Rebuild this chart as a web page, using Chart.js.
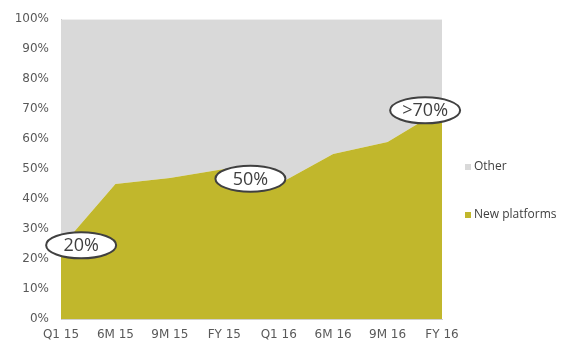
<!DOCTYPE html>
<html>
<head>
<meta charset="utf-8">
<script src="https://cdn.jsdelivr.net/npm/chart.js@4/dist/chart.umd.min.js"></script>
<style>
  html, body { margin: 0; padding: 0; background: #fff; }
  #wrap { width: 571px; height: 343px; }
</style>
</head>
<body>
<div id="wrap"><canvas id="areaChart"></canvas></div>
<script>
// Chart data
const periods = ['Q1 15', '6M 15', '9M 15', 'FY 15', 'Q1 16', '6M 16', '9M 16', 'FY 16'];
const newPlatforms = [24, 45, 47, 50, 45, 55, 59, 70];
const other = newPlatforms.map(v => 100 - v);
const yTicks = [0, 10, 20, 30, 40, 50, 60, 70, 80, 90, 100];

// Callout bubbles: text, x position (category index), y value
const calloutText = ['20%', '50%', '>70%'];
const calloutX = [0.37, 3.48, 6.69];
const calloutY = [24.6, 46.8, 69.6];

const tickFont = { family: 'DejaVu Sans', size: 12 };
const tickColor = '#595959';

// Draws the ellipse callouts on top of the areas
const calloutPlugin = {
  id: 'callouts',
  afterDatasetsDraw(chart) {
    const ctx = chart.ctx;
    const xs = chart.scales.x;
    const ys = chart.scales.y;
    ctx.save();
    calloutText.forEach((t, i) => {
      const cx = xs.getPixelForValue(calloutX[i]);
      const cy = ys.getPixelForValue(calloutY[i]);
      ctx.beginPath();
      ctx.ellipse(cx, cy, 35, 13, 0, 0, Math.PI * 2);
      ctx.fillStyle = '#ffffff';
      ctx.fill();
      ctx.lineWidth = 2;
      ctx.strokeStyle = '#404040';
      ctx.stroke();
      ctx.fillStyle = '#404040';
      ctx.font = '18px "Open Sans", sans-serif';
      ctx.textAlign = 'center';
      ctx.textBaseline = 'middle';
      ctx.fillText(t, cx, cy + 1);
    });
    ctx.restore();
  }
};

// Legend at the right, Other first
const legendPlugin = {
  id: 'sideLegend',
  afterDraw(chart) {
    const ctx = chart.ctx;
    const items = [chart.data.datasets[1], chart.data.datasets[0]];
    const rows = [167, 215];
    ctx.save();
    ctx.font = '12px "Open Sans", sans-serif';
    ctx.textBaseline = 'middle';
    ctx.textAlign = 'left';
    items.forEach((ds, i) => {
      ctx.fillStyle = ds.backgroundColor;
      ctx.fillRect(465, rows[i] - 3, 6, 6);
      ctx.fillStyle = '#404040';
      ctx.fillText(ds.label, 474, rows[i]);
    });
    ctx.restore();
  }
};

new Chart(document.getElementById('areaChart').getContext('2d'), {
  type: 'line',
  data: {
    labels: periods,
    datasets: [
      {
        label: 'New platforms',
        data: newPlatforms,
        backgroundColor: '#c1b72c',
        borderWidth: 0,
        pointRadius: 0,
        fill: 'origin'
      },
      {
        label: 'Other',
        data: other,
        backgroundColor: '#d9d9d9',
        borderWidth: 0,
        pointRadius: 0,
        fill: '-1'
      }
    ]
  },
  options: {
    responsive: true,
    maintainAspectRatio: false,
    animation: false,
    layout: { padding: { top: 18, right: 129, left: 0, bottom: 0 } },
    plugins: {
      legend: { display: false },
      tooltip: { enabled: false }
    },
    scales: {
      x: {
        offset: false,
        grid: { display: false, drawTicks: false },
        border: { color: '#d0d0d0' },
        ticks: { font: tickFont, color: tickColor, padding: 9, maxRotation: 0, autoSkip: false },
        afterFit(scale) { scale.height = 24; }
      },
      y: {
        stacked: true,
        min: 0,
        max: 100,
        grid: { display: false, drawTicks: false },
        border: { color: '#c8c8c8' },
        afterBuildTicks(scale) { scale.ticks = yTicks.map(v => ({ value: v })); },
        ticks: { font: tickFont, color: tickColor, padding: 12, callback: v => v + '%' },
        afterFit(scale) { scale.width = 61; }
      }
    }
  },
  plugins: [calloutPlugin, legendPlugin]
});
</script>
</body>
</html>
